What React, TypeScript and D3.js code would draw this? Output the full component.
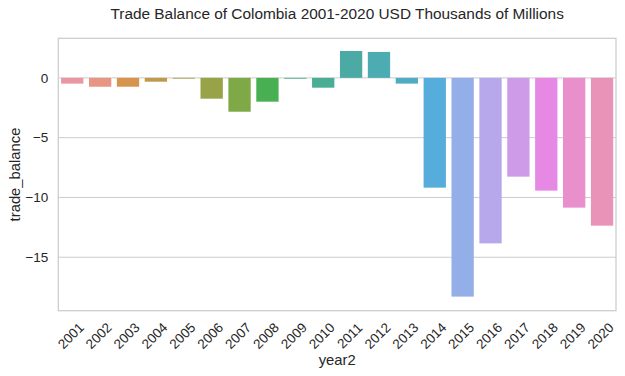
import React from "react";
import * as d3 from "d3";

const years = ["2001","2002","2003","2004","2005","2006","2007","2008","2009","2010","2011","2012","2013","2014","2015","2016","2017","2018","2019","2020"];
const tradeBalance = [-0.48,-0.74,-0.74,-0.32,-0.04,-1.74,-2.83,-1.99,-0.04,-0.82,2.25,2.17,-0.48,-9.18,-18.29,-13.84,-8.26,-9.43,-10.85,-12.36];
const yTicks = [0, -5, -10, -15];

// ---- HUSL (seaborn husl_palette) ----
const M = [[3.2406, -1.5372, -0.4986], [-0.9689, 1.8758, 0.0415], [0.0557, -0.2040, 1.0570]];
const refU = 0.19784, refV = 0.46834, labE = 0.008856, labK = 903.3;
function maxChroma(L: number, H: number) {
  const hrad = (H / 180) * Math.PI;
  const sinH = Math.sin(hrad), cosH = Math.cos(hrad);
  const sub1 = Math.pow(L + 16, 3) / 1560896;
  const sub2 = sub1 > 0.008856 ? sub1 : L / 903.3;
  let result = Infinity;
  for (const [m1, m2, m3] of M) {
    const top = (0.99915 * m1 + 1.05122 * m2 + 1.1446 * m3) * sub2;
    const rb = 0.8633 * m3 - 0.17266 * m2;
    const lb = 0.12949 * m3 - 0.38848 * m1;
    const bottom = (rb * sinH + lb * cosH) * sub2;
    for (const t of [0, 1]) {
      const C = (L * (top - 1.05122 * t)) / (bottom + 0.17266 * sinH * t);
      if (C > 0 && C < result) result = C;
    }
  }
  return result;
}
function huslToRgb(H: number, S: number, L: number) {
  const C = (maxChroma(L, H) / 100) * S;
  const hrad = (H / 180) * Math.PI;
  const U = Math.cos(hrad) * C, V = Math.sin(hrad) * C;
  const t = (L + 16) / 116;
  const varY = Math.pow(t, 3) > labE ? Math.pow(t, 3) : (116 * t - 16) / labK;
  const varU = U / (13 * L) + refU;
  const varV = V / (13 * L) + refV;
  const Y = varY;
  const X = -(9 * Y * varU) / ((varU - 4) * varV - varU * varV);
  const Z = (9 * Y - 15 * varV * Y - varV * X) / (3 * varV);
  return M.map(([a, b, c]) => {
    const lin = a * X + b * Y + c * Z;
    const v = lin <= 0.0031308 ? 12.92 * lin : 1.055 * Math.pow(lin, 1 / 2.4) - 0.055;
    return Math.max(0, Math.min(1, v));
  });
}
function palette(n: number) {
  const out: string[] = [];
  for (let i = 0; i < n; i++) {
    let h = (i / n + 0.01) % 1;
    h *= 359;
    const [r, g, b] = huslToRgb(h, 0.9 * 99, 0.7 * 99);
    const c = d3.hsl(d3.rgb(r * 255, g * 255, b * 255));
    c.s *= 0.75;
    out.push(c.formatHex());
  }
  return out;
}

export default function App() {
  const W = 625, H = 376;
  const left = 58.3, right = 616, top = 38.3, bottom = 310.7;
  const colors = palette(years.length);
  const x = d3.scaleBand().domain(years).range([left, right]).paddingInner(0.2).paddingOuter(0.1);
  const y = d3.scaleLinear().domain([-19.47, 3.31]).range([bottom, top]);
  const text = "#262626";
  const font = "'Liberation Sans', Arial, sans-serif";
  const step = (right - left) / years.length;
  return (
    <svg width={W} height={H} style={{ position: "absolute", left: 0, top: 0, background: "#fff" }} fontFamily={font}>
      <rect x={0} y={0} width={W} height={H} fill="#fff" />
      {yTicks.map((t) => (
        <g key={t}>
          <line x1={left} x2={right} y1={y(t)} y2={y(t)} stroke="#cccccc" strokeWidth={1} />
          <text x={left - 10} y={y(t)} dy="0.35em" textAnchor="end" fontSize={13.5} fill={text}>
            {t < 0 ? "\u2212" + Math.abs(t) : String(t)}
          </text>
        </g>
      ))}
      {years.map((yr, i) => {
        const v = tradeBalance[i];
        const y0 = y(Math.max(0, v)), y1 = y(Math.min(0, v));
        return <rect key={yr} x={x(yr)} width={x.bandwidth()} y={y0} height={Math.max(0.8, y1 - y0)} fill={colors[i]} />;
      })}
      <rect x={left} y={top} width={right - left} height={bottom - top} fill="none" stroke="#cccccc" strokeWidth={1.25} />
      {years.map((yr) => {
        const cx = left + step * (years.indexOf(yr) + 0.5) - 1.5;
        return (
          <text key={yr} transform={`translate(${cx},${bottom + 25}) rotate(-45)`} textAnchor="middle" dy="0.35em" fontSize={13.5} fill={text}>
            {yr}
          </text>
        );
      })}
      <text x={(left + right) / 2} y={365} textAnchor="middle" fontSize={14.8} fill={text}>year2</text>
      <text transform={`translate(19.5,${(top + bottom) / 2}) rotate(-90)`} textAnchor="middle" fontSize={14.8} fill={text}>trade_balance</text>
      <text x={(left + right) / 2} y={18.7} textAnchor="middle" fontSize={15.4} fill={text}>
        Trade Balance of Colombia 2001-2020 USD Thousands of Millions
      </text>
    </svg>
  );
}
